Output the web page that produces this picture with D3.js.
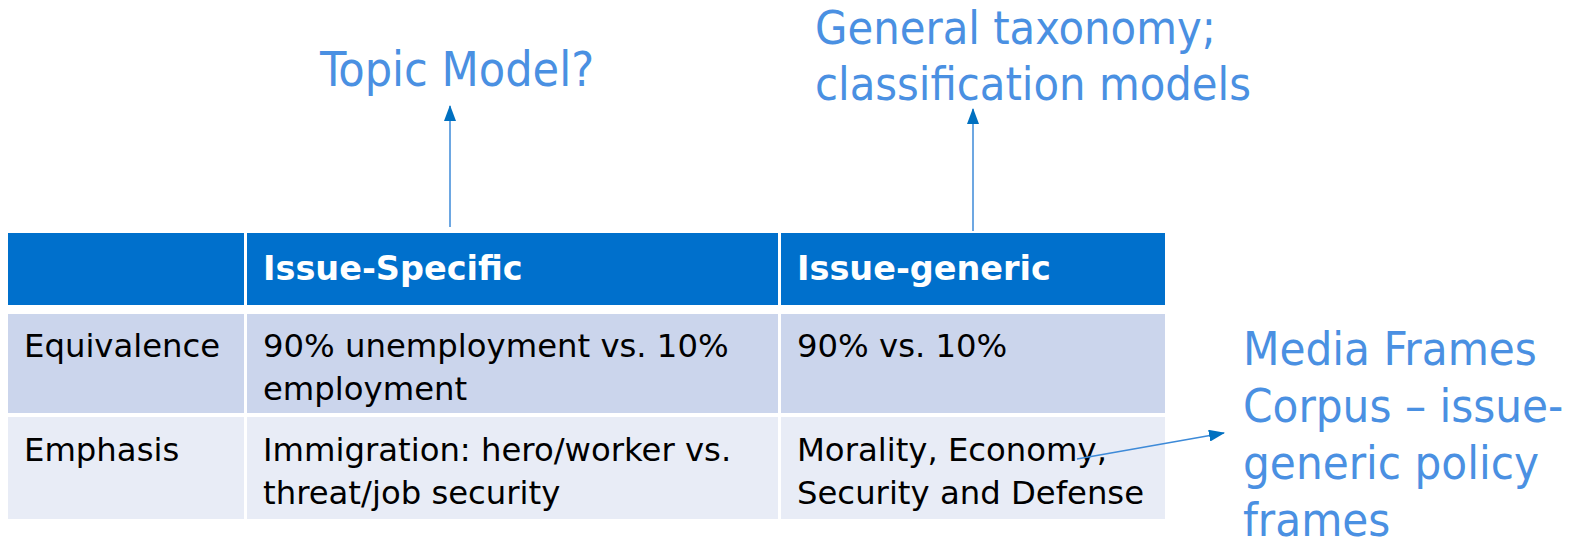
<!DOCTYPE html>
<html><head><meta charset="utf-8">
<script src="https://cdn.jsdelivr.net/npm/d3@7"></script>
<style>html,body{margin:0;padding:0;background:#fff;}svg{display:block;}</style>
</head><body><svg id="c" width="1583" height="541"></svg>
<script>
// ---- data ----
const headers = ["", "Issue-Specific", "Issue-generic"];
const rowLabels = ["Equivalence", "Emphasis"];
const specificCells = [["90% unemployment vs. 10%", "employment"], ["Immigration: hero/worker vs.", "threat/job security"]];
const genericCells = [["90% vs. 10%"], ["Morality, Economy,", "Security and Defense"]];
const noteTopic = ["Topic Model?"];
const noteGeneral = ["General taxonomy;", "classification models"];
const noteCorpus = ["Media Frames", "Corpus \u2013 issue-", "generic policy", "frames"];

// ---- layout ----
const svg = d3.select("#c");
const FONT = "'DejaVu Sans',sans-serif";
const NOTEFONT = "'DejaVu Sans Condensed','DejaVu Sans',sans-serif";
const colX = d3.scaleOrdinal().domain([0,1,2]).range([8, 247, 781]);
const colW = d3.scaleOrdinal().domain([0,1,2]).range([236, 531, 384]);
const rowY = d3.scaleOrdinal().domain([0,1,2]).range([233, 314, 417]);
const rowH = d3.scaleOrdinal().domain([0,1,2]).range([72, 99, 102]);
const rowFill = ["#0070CC", "#CBD5EC", "#E8ECF6"];

const defs = svg.append("defs");
defs.append("marker").attr("id","ah").attr("viewBox","0 0 16 12")
  .attr("refX",15).attr("refY",6).attr("markerWidth",16).attr("markerHeight",12)
  .attr("markerUnits","userSpaceOnUse").attr("orient","auto")
  .append("path").attr("d","M0,0 L16,6 L0,12 Z").attr("fill","#0070C0");

// cells
const grid = [];
for (let r = 0; r < 3; r++) for (let c = 0; c < 3; c++) grid.push({r, c});
svg.append("g").selectAll("rect").data(grid).join("rect")
  .attr("x", d => colX(d.c)).attr("y", d => rowY(d.r))
  .attr("width", d => colW(d.c)).attr("height", d => rowH(d.r))
  .attr("fill", d => rowFill[d.r]);

// header text
svg.append("g").selectAll("text").data(headers.map((h,i)=>({h,i})).filter(d=>d.h)).join("text")
  .attr("x", d => colX(d.i) + 16).attr("y", 280)
  .attr("font-family", FONT).attr("font-weight","bold").attr("font-size", 33.5)
  .attr("fill", "#fff").text(d => d.h);

// body text
const lineH = 43;
const bodyBase = [357, 461];
function cellText(lines, col, row) {
  svg.append("g").selectAll("text").data(lines).join("text")
    .attr("x", colX(col) + 16).attr("y", (d,i) => bodyBase[row] + i*lineH)
    .attr("font-family", FONT).attr("font-size", 32.3).attr("fill", "#000").text(d => d);
}
rowLabels.forEach((l, r) => cellText([l], 0, r));
specificCells.forEach((l, r) => cellText(l, 1, r));
genericCells.forEach((l, r) => cellText(l, 2, r));

// annotations
const BLUE = "#4A90E2";
function note(lines, x, y0, lh, fs) {
  svg.append("g").selectAll("text").data(lines).join("text")
    .attr("x", x).attr("y", (d,i) => y0 + i*lh)
    .attr("font-family", NOTEFONT).attr("font-size", fs).attr("fill", BLUE).text(d => d);
}
note(noteTopic, 320, 86, 56, 48);
note(noteGeneral, 815, 44, 56, 46.5);
note(noteCorpus, 1243, 365, 57, 47);

// arrows
const arrows = [[450, 227, 450, 106], [973, 231, 973, 109], [1077, 459, 1224, 433]];
svg.append("g").selectAll("line").data(arrows).join("line")
  .attr("x1", d => d[0]).attr("y1", d => d[1]).attr("x2", d => d[2]).attr("y2", d => d[3])
  .attr("stroke", "#3D8AD8").attr("stroke-width", 1.5).attr("marker-end", "url(#ah)");
</script></body></html>
